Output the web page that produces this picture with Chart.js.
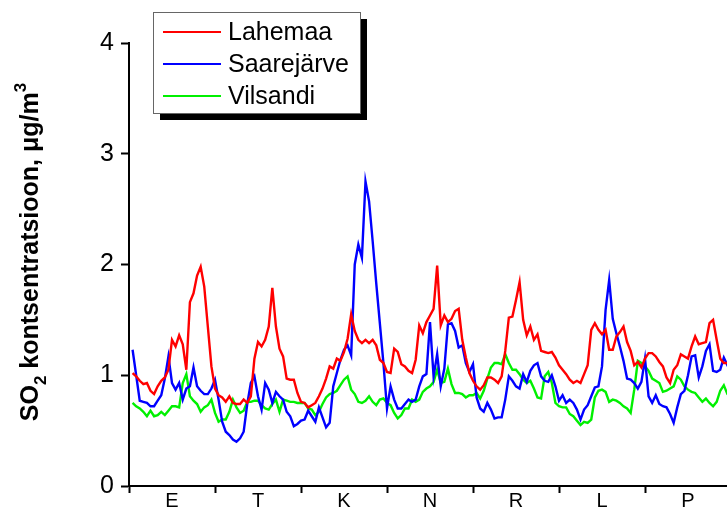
<!DOCTYPE html>
<html>
<head>
<meta charset="utf-8">
<script src="https://cdn.jsdelivr.net/npm/chart.js@4.4.1/dist/chart.umd.min.js"></script>
<style>
  html, body { margin: 0; padding: 0; overflow: hidden; background: #fff; }
  #wrap { width: 740px; height: 512px; }
</style>
</head>
<body>
<div id="wrap"><canvas id="so2Chart" width="740" height="512"></canvas></div>
<script>
  // weekdays, Monday .. Sunday
  const dayLabels = ["E", "T", "K", "N", "R", "L", "P"];

  // hourly means, hour 1 (Mon 01:00) .. hour 168 (Sun 24:00), µg/m3
  const lahemaa = [
    1.02, 0.99, 0.95, 0.92, 0.93, 0.86, 0.83, 0.90, 0.95, 0.98, 1.05, 1.32, 1.26, 1.36, 1.28, 1.05, 1.66, 1.74, 1.90, 1.98, 1.80, 1.44, 1.08, 0.88, 0.82, 0.80, 0.76, 0.81,
    0.75, 0.74, 0.74, 0.78, 0.75, 0.81, 1.15, 1.30, 1.26, 1.32, 1.44, 1.79, 1.44, 1.24, 1.17, 0.97, 0.96, 0.96, 0.84, 0.76, 0.75, 0.71, 0.73, 0.75, 0.81, 0.88, 0.97, 1.08,
    1.06, 1.15, 1.13, 1.21, 1.33, 1.55, 1.40, 1.32, 1.29, 1.32, 1.29, 1.32, 1.27, 1.14, 1.11, 1.03, 1.02, 1.24, 1.21, 1.10, 1.08, 1.04, 1.02, 1.14, 1.45, 1.38, 1.48, 1.54,
    1.60, 1.99, 1.45, 1.54, 1.48, 1.51, 1.58, 1.60, 1.32, 1.16, 1.02, 0.95, 0.90, 0.87, 0.91, 0.98, 0.98, 0.96, 0.93, 0.99, 1.22, 1.52, 1.53, 1.68, 1.84, 1.50, 1.36, 1.44,
    1.32, 1.37, 1.22, 1.21, 1.20, 1.21, 1.16, 1.09, 1.05, 1.01, 0.96, 0.93, 0.95, 0.93, 1.01, 1.09, 1.41, 1.47, 1.41, 1.37, 1.41, 1.23, 1.23, 1.35, 1.39, 1.44, 1.30, 1.22,
    1.09, 1.12, 1.07, 1.15, 1.20, 1.20, 1.17, 1.12, 1.08, 0.98, 0.93, 1.05, 1.09, 1.19, 1.17, 1.15, 1.26, 1.35, 1.28, 1.29, 1.30, 1.47, 1.50, 1.32, 1.15, 1.11, 1.11, 1.12
  ];
  const saarejarve = [
    1.23, 1.00, 0.77, 0.76, 0.75, 0.72, 0.72, 0.77, 0.82, 0.97, 1.17, 0.93, 0.87, 0.93, 0.78, 0.88, 0.90, 1.07, 0.90, 0.86, 0.83, 0.83, 0.88, 0.96, 0.78, 0.58, 0.49, 0.46,
    0.42, 0.40, 0.43, 0.49, 0.74, 0.93, 0.99, 0.81, 0.69, 0.93, 0.87, 0.75, 0.85, 0.81, 0.78, 0.67, 0.63, 0.54, 0.56, 0.59, 0.60, 0.68, 0.63, 0.58, 0.71, 0.62, 0.53, 0.57,
    0.90, 1.02, 1.14, 1.23, 1.27, 1.18, 2.00, 2.18, 2.06, 2.75, 2.57, 2.21, 1.83, 1.47, 1.11, 0.70, 0.90, 0.78, 0.70, 0.70, 0.74, 0.78, 0.76, 0.78, 0.90, 0.99, 1.01, 1.48,
    0.99, 1.19, 0.90, 1.06, 1.46, 1.47, 1.40, 1.25, 1.27, 1.11, 1.03, 1.10, 0.80, 0.70, 0.67, 0.75, 0.69, 0.61, 0.62, 0.62, 0.78, 0.99, 0.95, 0.90, 0.88, 1.01, 0.94, 1.04,
    1.09, 1.11, 0.99, 0.95, 0.94, 1.00, 0.90, 0.77, 0.82, 0.75, 0.78, 0.75, 0.69, 0.60, 0.69, 0.73, 0.81, 0.89, 0.90, 1.08, 1.59, 1.86, 1.51, 1.38, 1.26, 1.13, 0.97, 0.96,
    0.93, 0.88, 0.94, 1.15, 0.81, 0.75, 0.82, 0.74, 0.72, 0.71, 0.65, 0.57, 0.71, 0.83, 0.86, 1.00, 1.17, 1.18, 0.98, 1.08, 1.22, 1.28, 1.04, 1.03, 1.05, 1.16, 1.09, 1.10
  ];
  const vilsandi = [
    0.75, 0.72, 0.70, 0.67, 0.63, 0.68, 0.63, 0.64, 0.67, 0.64, 0.68, 0.72, 0.72, 0.71, 0.93, 1.01, 0.81, 0.77, 0.74, 0.67, 0.71, 0.73, 0.78, 0.66, 0.58, 0.60, 0.60, 0.67,
    0.78, 0.71, 0.66, 0.68, 0.76, 0.76, 0.77, 0.77, 0.73, 0.70, 0.69, 0.74, 0.78, 0.67, 0.78, 0.77, 0.76, 0.76, 0.75, 0.75, 0.75, 0.70, 0.69, 0.64, 0.67, 0.74, 0.80, 0.83,
    0.84, 0.86, 0.91, 0.96, 0.99, 0.87, 0.83, 0.76, 0.75, 0.77, 0.81, 0.76, 0.73, 0.78, 0.79, 0.75, 0.73, 0.66, 0.61, 0.64, 0.70, 0.70, 0.78, 0.76, 0.78, 0.85, 0.88, 0.90,
    0.94, 1.05, 0.93, 0.94, 1.06, 0.92, 0.84, 0.84, 0.83, 0.80, 0.82, 0.82, 0.84, 0.79, 0.86, 0.97, 1.07, 1.11, 1.11, 1.10, 1.19, 1.11, 1.05, 1.05, 1.01, 0.96, 0.93, 0.95,
    0.88, 0.80, 0.79, 0.99, 1.03, 0.93, 0.75, 0.72, 0.71, 0.71, 0.65, 0.63, 0.59, 0.55, 0.58, 0.57, 0.60, 0.80, 0.86, 0.87, 0.85, 0.76, 0.78, 0.77, 0.75, 0.72, 0.70, 0.66,
    0.87, 1.13, 1.11, 1.08, 1.04, 0.97, 0.95, 0.93, 0.85, 0.86, 0.88, 0.90, 0.99, 0.96, 0.90, 0.87, 0.85, 0.84, 0.80, 0.76, 0.79, 0.75, 0.72, 0.76, 0.86, 0.91, 0.83, 0.80
  ];

  const FONT = "'Liberation Sans', Arial, sans-serif";

  function toPoints(values) {
    return values.map((v, i) => ({ x: i + 1, y: v }));
  }

  // rotated y title with real sub/superscripts
  const axisTitlePlugin = {
    id: "axisTitle",
    afterDraw(chart) {
      const ctx = chart.ctx;
      const parts = [
        { text: "SO", size: 25, dy: 0 },
        { text: "2", size: 17, dy: 8 },
        { text: " kontsentratsioon, \u03bcg/m", size: 25, dy: 0 },
        { text: "3", size: 17, dy: -12 },
      ];
      ctx.save();
      ctx.fillStyle = "#000";
      ctx.textBaseline = "alphabetic";
      let total = 0;
      parts.forEach((p) => {
        ctx.font = "bold " + p.size + "px " + FONT;
        p.w = ctx.measureText(p.text).width;
        total += p.w;
      });
      ctx.translate(38, 252);
      ctx.rotate(-Math.PI / 2);
      let x = -total / 2;
      parts.forEach((p) => {
        ctx.font = "bold " + p.size + "px " + FONT;
        ctx.fillText(p.text, x, p.dy);
        x += p.w;
      });
      ctx.restore();
    },
  };

  // boxed legend with a drop shadow
  const legendBoxPlugin = {
    id: "legendBox",
    afterDraw(chart) {
      const ctx = chart.ctx;
      ctx.save();
      ctx.fillStyle = "#000";
      ctx.fillRect(160, 19, 207, 101);
      ctx.fillStyle = "#fff";
      ctx.fillRect(153, 12, 207, 101);
      ctx.strokeStyle = "#666";
      ctx.lineWidth = 1;
      ctx.strokeRect(153.5, 12.5, 207, 101);
      ctx.font = "25px " + FONT;
      ctx.textBaseline = "middle";
      chart.data.datasets.forEach((ds, i) => {
        const y = 32 + i * 32;
        ctx.strokeStyle = ds.borderColor;
        ctx.lineWidth = 2;
        ctx.beginPath();
        ctx.moveTo(163, y);
        ctx.lineTo(221, y);
        ctx.stroke();
        ctx.fillStyle = "#000";
        ctx.fillText(ds.label, 228, y + 1);
      });
      ctx.restore();
    },
  };

  function lineSet(label, values, color) {
    return {
      label: label,
      data: toPoints(values),
      borderColor: color,
      borderWidth: 2.4,
      pointRadius: 0,
      tension: 0,
      fill: false,
    };
  }

  new Chart(document.getElementById("so2Chart"), {
    type: "line",
    data: {
      datasets: [
        lineSet("Lahemaa", lahemaa, "#ff0000"),
        lineSet("Saarejärve", saarejarve, "#0000ff"),
        lineSet("Vilsandi", vilsandi, "#00f000"),
      ],
    },
    options: {
      responsive: false,
      animation: false,
      events: [],
      layout: { padding: { top: 43, right: 9, bottom: 0, left: 0 } },
      plugins: {
        legend: { display: false },
        tooltip: { enabled: false },
      },
      scales: {
        x: {
          type: "linear",
          min: 0,
          max: 168,
          ticks: {
            stepSize: 12,
            autoSkip: false,
            maxRotation: 0,
            color: "#000",
            padding: -4,
            font: { family: FONT, size: 20 },
            callback: (v) => (v % 24 === 12 ? dayLabels[(v - 12) / 24] : ""),
          },
          grid: {
            drawOnChartArea: false,
            tickLength: 7,
            tickWidth: 2,
            tickColor: (c) => (c.tick && c.tick.value % 24 === 0 ? "#000" : "rgba(0,0,0,0)"),
          },
          border: { display: true, color: "#000", width: 2 },
          afterFit(scale) { scale.height = 26; },
        },
        y: {
          min: 0,
          max: 4,
          ticks: {
            stepSize: 1,
            color: "#000",
            padding: 7,
            font: { family: FONT, size: 25 },
          },
          grid: {
            drawOnChartArea: false,
            tickLength: 8,
            tickWidth: 2,
            tickColor: "#000",
          },
          border: { display: true, color: "#000", width: 2 },
          afterFit(scale) { scale.width = 129; },
        },
      },
    },
    plugins: [axisTitlePlugin, legendBoxPlugin],
  });
</script>
</body>
</html>
